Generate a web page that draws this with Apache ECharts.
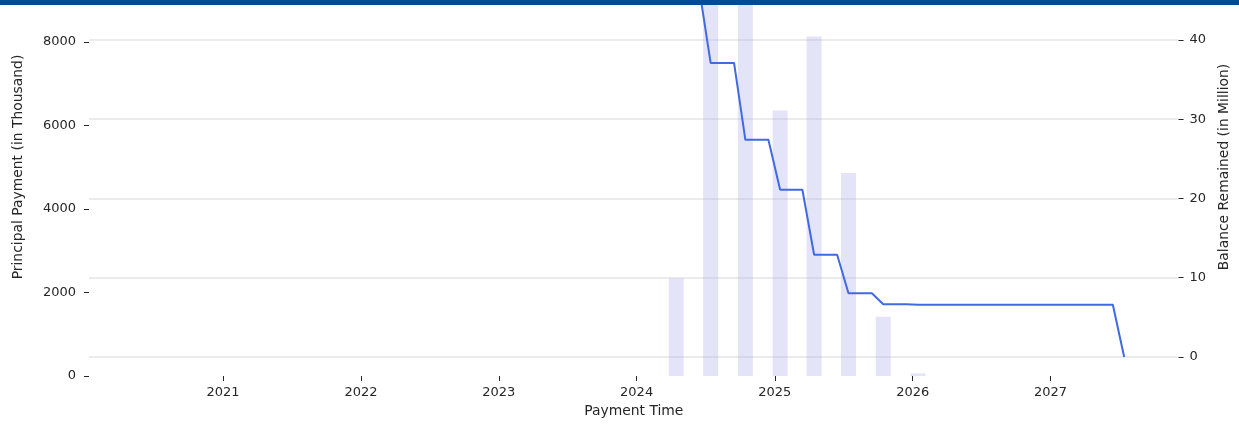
<!DOCTYPE html>
<html>
<head>
<meta charset="utf-8">
<script src="https://cdn.jsdelivr.net/npm/echarts@6/dist/echarts.min.js"></script>
<style>
html,body{margin:0;padding:0;background:#fff;}
#chart{width:1239px;height:425px;}
</style>
</head>
<body>
<div id="chart"></div>
<script>
// ---- data ----
const paymentDates = ['2024-04-15','2024-07-15','2024-10-15','2025-01-15','2025-04-15','2025-07-15','2025-10-15','2026-01-15'];
const principalPayment = [2340, 9300, 9700, 6360, 8130, 4860, 1420, 65]; // in thousand

const balanceDates = ['2020-06-15','2024-03-15','2024-04-15','2024-06-15','2024-07-15','2024-09-15','2024-10-15','2024-12-15',
  '2025-01-15','2025-03-15','2025-04-15','2025-06-15','2025-07-15','2025-09-15','2025-10-15','2025-12-15','2026-01-15','2027-06-15','2027-07-15'];
const balanceRemained = [48.7, 48.7, 46.4, 46.4, 37.1, 37.1, 27.4, 27.4,
  21.1, 21.1, 12.9, 12.9, 8.05, 8.05, 6.65, 6.65, 6.58, 6.58, 0]; // in million

const xTickYears = [2021, 2022, 2023, 2024, 2025, 2026, 2027];
const leftTicks = [0, 2000, 4000, 6000, 8000];
const rightTicks = [0, 10, 20, 30, 40];

// ---- helpers ----
function ts(s){ const p = s.split('-').map(Number); return Date.UTC(p[0], p[1]-1, p[2]); }

const barData = paymentDates.map((d,i)=>[ts(d), principalPayment[i]]);
const lineData = balanceDates.map((d,i)=>[ts(d), balanceRemained[i]]);
const xTicks = xTickYears.map(y=>Date.UTC(y,0,1));

const txt = '#262626';
const font = 'DejaVu Sans';

const chart = echarts.init(document.getElementById('chart'), null, {renderer:'canvas'});
chart.setOption({
  animation:false,
  backgroundColor:'#ffffff',
  textStyle:{fontFamily:font},
  grid:{left:89, right:56, top:0, bottom:49, containLabel:false},
  xAxis:{
    type:'value',
    min: ts('2020-01-12'),
    max: ts('2027-12-06'),
    name:'Payment Time',
    nameLocation:'middle',
    nameGap:28,
    nameTextStyle:{color:txt, fontSize:13.9, fontFamily:font},
    axisLine:{show:false},
    axisTick:{show:true, length:5, lineStyle:{color:txt, width:1}, customValues:xTicks},
    axisLabel:{color:txt, fontSize:13, fontFamily:font, margin:10, customValues:xTicks,
      formatter:function(v){ return String(new Date(v).getUTCFullYear()); }},
    splitLine:{show:false}
  },
  yAxis:[
    {
      type:'value', position:'left',
      min:0, max:9006,
      name:'Principal Payment (in Thousand)',
      nameLocation:'middle', nameGap:64, nameRotate:90,
      nameTextStyle:{color:txt, fontSize:13.9, fontFamily:font, padding:[0,0,0,42]},
      axisLine:{show:false},
      axisTick:{show:true, length:5, lineStyle:{color:txt, width:1}, customValues:leftTicks},
      axisLabel:{color:txt, fontSize:13, fontFamily:font, margin:13, customValues:leftTicks,
        formatter:function(v){ return String(v); }},
      splitLine:{show:false}
    },
    {
      type:'value', position:'right',
      min:-2.4, max:45.04,
      name:'Balance Remained (in Million)',
      nameLocation:'middle', nameGap:36, nameRotate:90,
      nameTextStyle:{color:txt, fontSize:13.9, fontFamily:font, padding:[0,0,0,42]},
      axisLine:{show:false},
      axisTick:{show:true, length:5, lineStyle:{color:txt, width:1}, customValues:rightTicks},
      axisLabel:{color:txt, fontSize:13, fontFamily:font, margin:11, customValues:rightTicks,
        formatter:function(v){ return String(v); }},
      splitLine:{show:true, lineStyle:{color:'#ebebeb', width:2}}
    }
  ],
  series:[
    {
      type:'bar', yAxisIndex:0, data:barData, barWidth:15,
      itemStyle:{color:'rgba(170,170,232,0.32)'},
      z:2
    },
    {
      type:'line', yAxisIndex:1, data:lineData,
      showSymbol:false, symbol:'none', clip:true,
      lineStyle:{color:'#4169e1', width:2},
      z:3
    }
  ],
  graphic:[
    {type:'rect', left:0, top:0, z:100, shape:{width:1239, height:5}, style:{fill:'#014b97'}}
  ]
});
</script>
</body>
</html>
